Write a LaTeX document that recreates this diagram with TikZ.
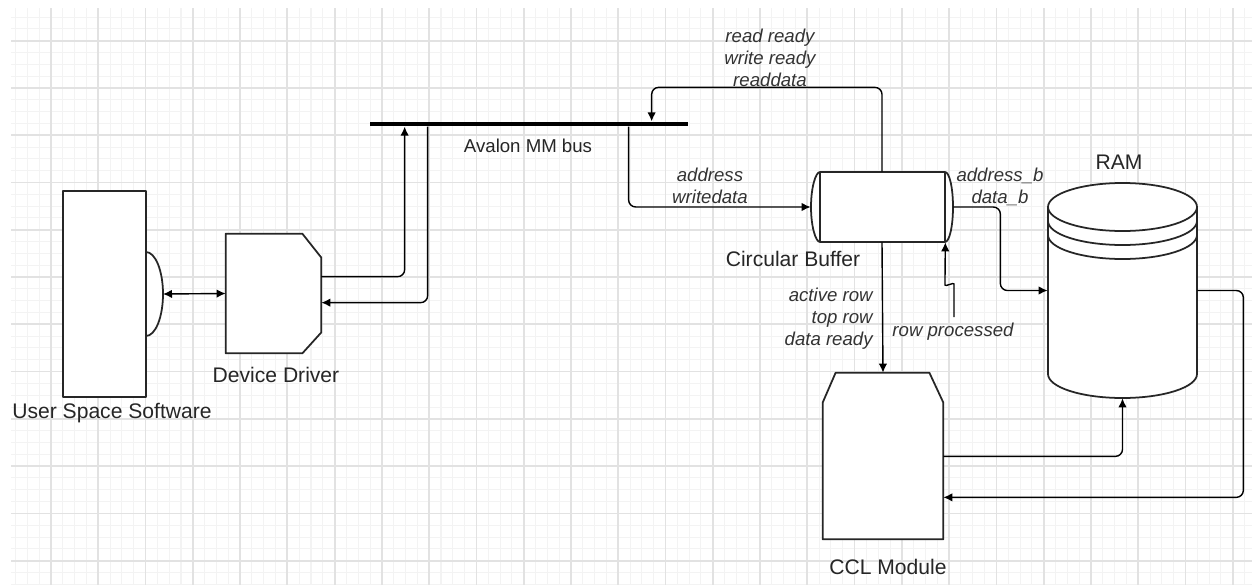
\documentclass[tikz,border=0pt]{standalone}
\usepackage{fontspec}
\setmainfont{Liberation Sans}
\usepackage{xcolor}
\usepackage{tikz}
\usetikzlibrary{arrows.meta,positioning,fit,calc}
\definecolor{gridminor}{HTML}{F3F3F3}
\definecolor{gridmajor}{HTML}{E2E2E2}
\tikzset{
  hwblock/.style={
    draw=black!85,
    line width=1pt,
    fill=white,
    line join=round
  },
  hwframe/.style={
    inner sep=0pt
  },
  hwlabel/.style={
    font=\fontsize{12}{14}\selectfont,
    text=black!85,
    inner sep=0pt
  },
  hwbuslabel/.style={
    font=\fontsize{10.6}{12.8}\selectfont,
    text=black!85,
    inner sep=0pt
  },
  hwsignal/.style={
    font=\fontsize{10.6}{12.6}\selectfont\itshape,
    text=black!80,
    align=center,
    inner sep=0pt
  },
  hwarrow/.style={
    -{Latex[length=1.8mm,width=1.7mm]},
    line width=0.8pt,
    rounded corners=4pt
  },
  hwboth/.style={
    {Latex[length=1.8mm,width=1.7mm]}-{Latex[length=1.8mm,width=1.7mm]},
    line width=0.8pt
  },
  hwgrid/.style={
    draw=gridminor,
    line width=0.6pt
  },
  hwgridmajor/.style={
    draw=gridmajor,
    line width=1pt
  }
}

\begin{document}
\begin{tikzpicture}[x=0.02cm, y=-0.02cm]
    \useasboundingbox[fill=white] (0,0) rectangle (1252,585);
    \foreach \k in {1,...,105} {\draw[hwgrid] ({3.73+11.8175*\k},8) -- ({3.73+11.8175*\k},585);}
    \foreach \k in {-2,...,46} {\draw[hwgrid] (11,{40.7+11.8175*\k}) -- (1252,{40.7+11.8175*\k});}
    \foreach \k in {1,...,26} {\draw[hwgridmajor] ({3.73+47.27*\k},8) -- ({3.73+47.27*\k},585);}
    \foreach \k in {0,...,11} {\draw[hwgridmajor] (11,{40.7+47.27*\k}) -- (1252,{40.7+47.27*\k});}

    \draw[hwblock] (146,252) .. controls (155.4,252) and (163,270.8) .. (163,294) .. controls (163,317.2) and (155.4,336) .. (146,336);
    \coordinate (usstab) at (163,294);
    \node[hwblock, hwframe, fit={(63,191) (146,397)}] (uss) {};
    \node[hwlabel] (usslbl) at (112,413) {User Space Software};

    \node[hwframe, fit={(226,234) (321,353)}] (driver) {};
    \draw[hwblock] (driver.north west) -- ($(driver.north east)+(-19,0)$) -- ($(driver.north east)+(0,24)$) -- ($(driver.south east)+(0,-21)$) -- ($(driver.south east)+(-19,0)$) -- (driver.south west) -- cycle;
    \node[hwlabel] (driverlbl) at (276,375) {Device Driver};

    \node[hwframe, inner ysep=1.3pt, fill=black, fit={(370,124) (688,124)}] (bus) {};
    \node[hwbuslabel] (buslbl) at (528,146) {Avalon MM bus};

    \node[hwframe, fit={(811,172) (953,242)}] (buffer) {};
    \draw[hwblock] (820,172) -- (945,172) .. controls (949.4,172) and (953,187.7) .. (953,207) .. controls (953,226.3) and (949.4,242) .. (945,242) -- (820,242) .. controls (815.6,242) and (811,226.3) .. (811,207) .. controls (811,187.7) and (815.6,172) .. (820,172) -- cycle;
    \draw[hwblock, fill=none] (820,172) -- (820,242) (945,172) -- (945,242);
    \node[hwlabel] (bufferlbl) at (793,259) {Circular Buffer};

    \node[hwframe, fit={(1048,183) (1197,398)}] (ram) {};
    \draw[hwblock] (1048,207) .. controls (1048,193.75) and (1081.4,183) .. (1122.5,183) .. controls (1163.6,183) and (1197,193.75) .. (1197,207) -- (1197,374) .. controls (1197,387.25) and (1163.6,398) .. (1122.5,398) .. controls (1081.4,398) and (1048,387.25) .. (1048,374) -- cycle;
    \foreach \c in {207,221,235} {\draw[hwblock, fill=none] (1048,\c) .. controls (1048,\c+13.25) and (1081.4,\c+24) .. (1122.5,\c+24) .. controls (1163.6,\c+24) and (1197,\c+13.25) .. (1197,\c);}
    \node[hwlabel] (ramlbl) at (1119,162) {RAM};

    \node[hwframe, fit={(823,373) (943,539)}] (ccl) {};
    \draw[hwblock] ($(ccl.north west)+(13,0)$) -- ($(ccl.north east)+(-14,0)$) -- ($(ccl.north east)+(0,30)$) -- (ccl.south east) -- (ccl.south west) -- ($(ccl.north west)+(0,30)$) -- cycle;
    \node[hwlabel] (ccllbl) at (888,567) {CCL Module};

    \node[hwsignal] (readlbl) at (770,58) {read ready\\write ready\\readdata};
    \node[hwsignal] (writelbl) at (710,186) {address\\writedata};
    \node[hwsignal] (portblbl) at (1000,187) {address\_b\\data\_b};
    \node[hwsignal, align=right, anchor=east] (rowlbl) at (873,318.5) {active row\\top row\\data ready};
    \node[hwsignal] (donelbl) at (953,332) {row processed};
    \coordinate (rowsrc) at (954,317);

    \draw[hwboth] (usstab) -- (driver.west);
    \draw[hwarrow] ($(driver.north east)+(0,43)$) -| ($(bus.south west)+(35,0)$);
    \draw[hwarrow] ($(bus.south west)+(58,0)$) |- ($(driver.north east)+(0,69)$);
    \draw[hwarrow] ($(bus.south west)+(259,0)$) |- (buffer.west);
    \draw[hwarrow] (buffer.north) |- ($(bus.north west)+(282,-34)$) -- ($(bus.north west)+(282,0)$);
    \draw[hwarrow] (buffer.east) -- ++(47,0) |- (ram.west);
    \draw[hwarrow] (buffer.south) -- (ccl.north);
    \draw[hwarrow] (rowsrc) -- (954,291) .. controls (954,282) and (945,287) .. (945,278) -- ($(buffer.south east)+(-8,0)$);
    \draw[hwarrow] ($(ccl.south east)+(0,-83)$) -| (ram.south);
    \draw[hwarrow] (ram.east) -- ++(46,0) |- ($(ccl.south east)+(0,-42)$);
  \end{tikzpicture}
\end{document}
